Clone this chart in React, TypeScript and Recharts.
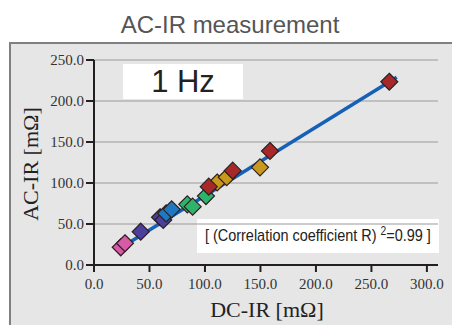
import React from 'react';
import { ScatterChart, Scatter, XAxis, YAxis, CartesianGrid } from 'recharts';

const xTicks = [0, 50, 100, 150, 200, 250, 300];
const yTicks = [0, 50, 100, 150, 200, 250];

const pinkX = [24.1, 27.9];
const pinkY = [21.6, 26.5];
const purpleX = [42.1, 59.5, 62.4];
const purpleY = [40.6, 58.2, 54.9];
const blueX = [65, 70];
const blueY = [63, 67.9];
const greenX = [84.1, 88.9, 100.9];
const greenY = [74, 71.1, 84.1];
const mustardX = [111, 119.6, 149.6];
const mustardY = [100.6, 107, 119.1];
const redX = [103.4, 125, 158.6, 266.1];
const redY = [95.5, 115, 139, 223.5];
const trendX = [21.9, 272.8];
const trendY = [19.1, 228.9];

const zip = (xs: number[], ys: number[]) => xs.map((x, i) => ({ x, y: ys[i] }));

const groups = [
  { name: 'pink', color: '#d65aa8', data: zip(pinkX, pinkY) },
  { name: 'purple', color: '#4b3f9e', data: zip(purpleX, purpleY) },
  { name: 'blue', color: '#1f78c2', data: zip(blueX, blueY) },
  { name: 'green', color: '#2fb36c', data: zip(greenX, greenY) },
  { name: 'mustard', color: '#c8981f', data: zip(mustardX, mustardY) },
  { name: 'red', color: '#a8282a', data: zip(redX, redY) },
];

const Diamond = (props: any) => {
  const { cx, cy, fill } = props;
  if (cx == null || cy == null) return <g />;
  const r = 8.5;
  return (
    <polygon
      points={`${cx},${cy - r} ${cx + r},${cy} ${cx},${cy + r} ${cx - r},${cy}`}
      fill={fill}
      stroke="#2e2020"
      strokeWidth={1.2}
    />
  );
};

const fmt = (v: number) => v.toFixed(1);
const tickStyle = { fontFamily: '"Liberation Serif", "DejaVu Serif", serif', fontSize: 15, fill: '#333' };
const axisColor = '#231f20';

export default function App() {
  return (
    <div style={{ position: 'absolute', left: 0, top: 0, width: 452, height: 325, background: '#fff', overflow: 'hidden' }}>
      <div
        style={{
          position: 'absolute', left: 0, top: 10, width: 460, textAlign: 'center',
          fontFamily: '"Liberation Sans", Arial, sans-serif', fontSize: 24, color: '#555', lineHeight: '30px',
        }}
      >
        AC-IR measurement
      </div>
      <div
        style={{
          position: 'absolute', left: 9, top: 42, width: 443, height: 283, background: '#e6e6e6',
          borderTop: '2px solid #808080', borderLeft: '2px solid #808080', boxSizing: 'border-box',
        }}
      />
      <div
        style={{
          position: 'absolute', left: 123, top: 64, width: 120, height: 35, background: '#fff',
          textAlign: 'center', fontFamily: '"Liberation Sans", Arial, sans-serif', fontSize: 31,
          lineHeight: '35px', color: '#222',
        }}
      >
        1 Hz
      </div>
      <div
        style={{
          position: 'absolute', left: 197, top: 219, width: 242, height: 34, background: '#fff',
          textAlign: 'center', fontFamily: '"Liberation Sans", Arial, sans-serif', fontSize: 17,
          lineHeight: '34px', color: '#222', whiteSpace: 'nowrap',
        }}
      >
        <span style={{ display: 'inline-block', transform: 'scaleX(0.85)', transformOrigin: 'center', marginLeft: -40, marginRight: -40 }}>
          [ (Correlation coefficient R) <sup style={{ fontSize: 12, verticalAlign: 'top', lineHeight: '24px' }}>2</sup>=0.99 ]
        </span>
      </div>
      <div style={{ position: 'absolute', left: 0, top: 0 }}>
        <ScatterChart width={452} height={325} margin={{ top: 60, right: 14, bottom: 30, left: 0 }}>
          <CartesianGrid vertical={false} stroke="#9a9a9a" strokeWidth={1} />
          <XAxis
            type="number"
            dataKey="x"
            domain={[0, 310]}
            ticks={xTicks}
            interval={0}
            tickFormatter={fmt}
            tick={tickStyle}
            tickSize={7}
            tickMargin={6}
            height={30}
            allowDataOverflow
            axisLine={{ stroke: axisColor, strokeWidth: 2 }}
            tickLine={{ stroke: axisColor, strokeWidth: 2 }}
          />
          <YAxis
            type="number"
            dataKey="y"
            domain={[0, 250]}
            ticks={yTicks}
            interval={0}
            tickFormatter={fmt}
            tick={tickStyle}
            tickSize={8}
            tickMargin={2}
            width={94}
            allowDataOverflow
            axisLine={{ stroke: axisColor, strokeWidth: 2 }}
            tickLine={{ stroke: axisColor, strokeWidth: 2 }}
          />
          <Scatter
            data={zip(trendX, trendY)}
            line={{ stroke: '#1661b8', strokeWidth: 3.5 }}
            shape={() => <g />}
            isAnimationActive={false}
          />
          {groups.map((g) => (
            <Scatter key={g.name} data={g.data} fill={g.color} shape={<Diamond />} isAnimationActive={false} />
          ))}
        </ScatterChart>
      </div>
      <div
        style={{
          position: 'absolute', left: 31, top: 164, width: 0, height: 0,
        }}
      >
        <div
          style={{
            position: 'absolute', left: -100, top: -14, width: 200, textAlign: 'center', lineHeight: '28px',
            transform: 'rotate(-90deg)', fontFamily: '"Liberation Serif", serif', fontSize: 22, color: '#222',
            whiteSpace: 'nowrap',
          }}
        >
          AC-IR [mΩ]
        </div>
      </div>
      <div
        style={{
          position: 'absolute', left: 167, top: 296, width: 200, textAlign: 'center', lineHeight: '28px',
          fontFamily: '"Liberation Serif", serif', fontSize: 22, color: '#222', whiteSpace: 'nowrap',
        }}
      >
        DC-IR [mΩ]
      </div>
    </div>
  );
}
